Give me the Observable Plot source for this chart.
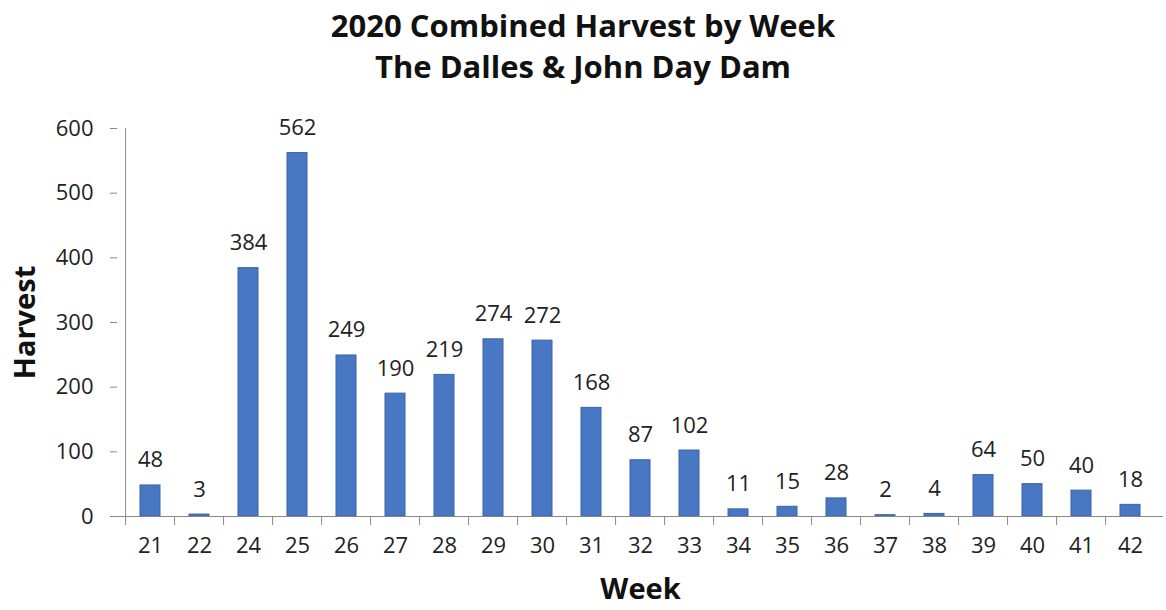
<!DOCTYPE html>
<html>
<head>
<meta charset="utf-8">
<script src="https://cdn.jsdelivr.net/npm/d3@7"></script>
<script src="https://cdn.jsdelivr.net/npm/@observablehq/plot@0.6"></script>
<style>
  html, body { margin: 0; padding: 0; background: #fff; }
  #title { height: 100px; box-sizing: border-box; padding-top: 5px; text-align: center; font-family: "Open Sans", sans-serif; font-weight: 700; font-size: 31px; line-height: 41px; color: #111; }
  svg { display: block; }
</style>
</head>
<body>
<div id="title"><div>2020 Combined Harvest by Week</div><div>The Dalles &amp; John Day Dam</div></div>
<div id="chart"></div>
<script>
const weeks = ["21","22","24","25","26","27","28","29","30","31","32","33","34","35","36","37","38","39","40","41","42"];
const harvest = [48, 3, 384, 562, 249, 190, 219, 274, 272, 168, 87, 102, 11, 15, 28, 2, 4, 64, 50, 40, 18];
const yTicks = [0, 100, 200, 300, 400, 500, 600];

const data = weeks.map((w, i) => ({week: w, value: harvest[i]}));

const W = 1166, H = 510;
const mL = 117, mR = 3, mT = 28, mB = 94;
const bandW = (W - mL - mR) / weeks.length;

const chart = Plot.plot({
  width: W,
  height: H,
  marginLeft: mL,
  marginRight: mR,
  marginTop: mT,
  marginBottom: mB,
  style: {fontFamily: "'Open Sans', sans-serif", fontSize: "22px", color: "#222", background: "#fff"},
  x: {domain: weeks, padding: 0.6, paddingOuter: 0.3, label: null},
  y: {domain: [0, 600], label: null},
  marks: [
    Plot.barY(data, {x: "week", y: "value", fill: "#4878c4", stroke: "#3a63a8", strokeWidth: 1}),
    Plot.text(data, {x: "week", y: "value", text: d => String(d.value), lineAnchor: "bottom", dy: -18, fontSize: 22, fill: "#222"}),
    Plot.axisY({ticks: yTicks, tickSize: 7, tickPadding: 17, fontSize: 22, fill: "#222", stroke: "#888"}),
    Plot.ruleX([0], {x: () => weeks[0], dx: -bandW / 2, y1: 0, y2: 600, stroke: "#888"}),
    Plot.ruleY([0], {stroke: "#888"}),
    Plot.ruleX(weeks, {x: d => d, dx: -bandW / 2, y1: 0, y2: -600 * 9 / 388, stroke: "#888"}),
    Plot.axisX({tickSize: 0, tickPadding: 21, fontSize: 22, fill: "#222"}),
    Plot.text(["Week"], {frameAnchor: "bottom", textAnchor: "middle", lineAnchor: "middle", dy: 73, fontSize: 29, fontWeight: 700, fill: "#111"}),
    Plot.text(["Harvest"], {frameAnchor: "left", textAnchor: "middle", lineAnchor: "middle", dx: -92, rotate: -90, fontSize: 29, fontWeight: 700, fill: "#111"})
  ]
});
document.getElementById("chart").appendChild(chart);
</script>
</body>
</html>
